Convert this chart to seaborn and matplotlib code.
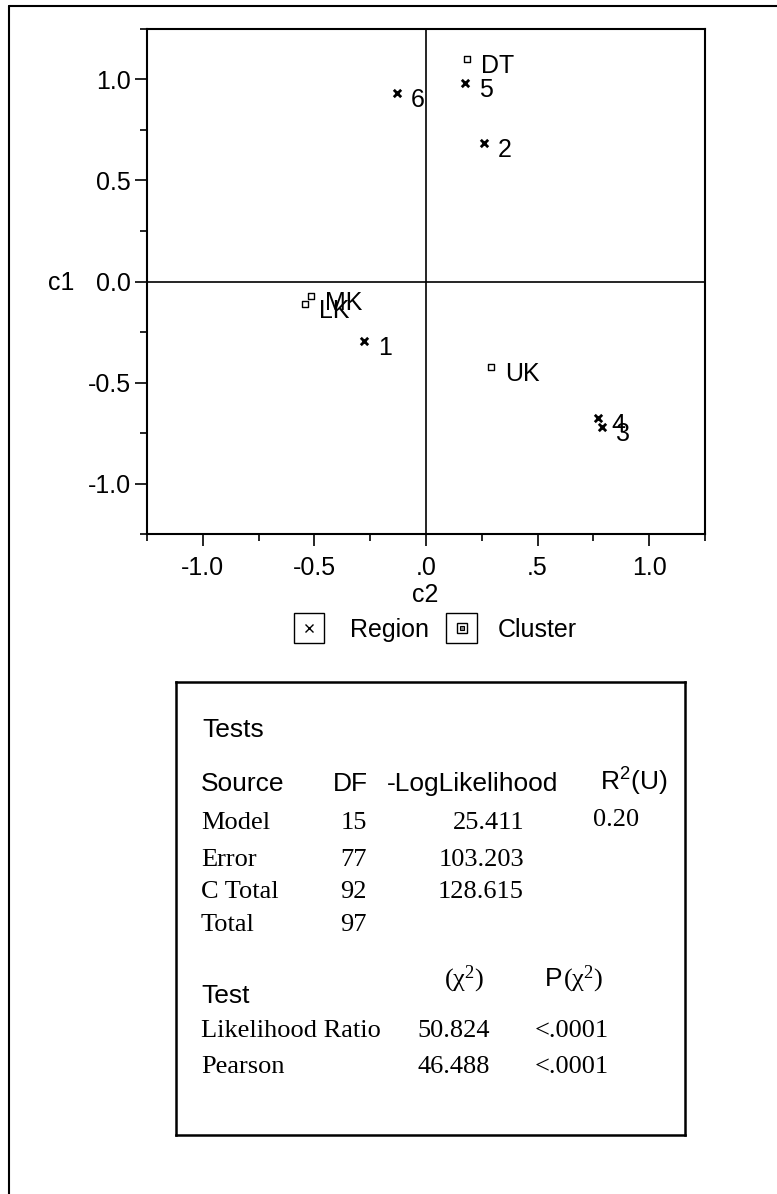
import numpy as np
import pandas as pd
import seaborn as sns
import matplotlib.pyplot as plt
from matplotlib.lines import Line2D
from matplotlib.patches import Rectangle

# points
region_labels = ["1", "2", "3", "4", "5", "6"]
region_c2 = [-0.276, 0.260, 0.788, 0.769, 0.176, -0.131]
region_c1 = [-0.295, 0.684, -0.721, -0.676, 0.981, 0.935]

cluster_labels = ["DT", "LK", "MK", "UK"]
cluster_c2 = [0.182, -0.541, -0.516, 0.293]
cluster_c1 = [1.100, -0.111, -0.072, -0.424]

xtick_vals = [-1.0, -0.5, 0.0, 0.5, 1.0]
xtick_text = ["-1.0", "-0.5", ".0", ".5", "1.0"]
ytick_vals = [-1.0, -0.5, 0.0, 0.5, 1.0]
ytick_text = ["-1.0", "-0.5", "0.0", "0.5", "1.0"]
minor_vals = [-1.25, -0.75, -0.25, 0.25, 0.75, 1.25]

# Tests table
src_rows = ["Model", "Error", "C Total", "Total"]
src_df = ["15", "77", "92", "97"]
src_loglik = ["25.411", "103.203", "128.615", ""]
src_r2 = ["0.20", "", "", ""]
test_rows = ["Likelihood Ratio", "Pearson"]
test_chi = ["50.824", "46.488"]
test_p = ["<.0001", "<.0001"]

region = pd.DataFrame({"c2": region_c2, "c1": region_c1, "label": region_labels})
cluster = pd.DataFrame({"c2": cluster_c2, "c1": cluster_c1, "label": cluster_labels})

sns.set_theme(style="white")
plt.rcParams["font.family"] = ["Liberation Sans", "DejaVu Sans"]
plt.rcParams["mathtext.fontset"] = "custom"
plt.rcParams["mathtext.rm"] = "Liberation Serif"
plt.rcParams["mathtext.sf"] = "Liberation Sans"

W, H = 777, 1194
fig = plt.figure(figsize=(W / 100, H / 100), dpi=100)


def fx(x):
    return x / W


def fy(y):
    return 1 - y / H


SANS = ["Liberation Sans", "DejaVu Sans"]
SERIF = ["Liberation Serif", "DejaVu Serif"]

# main scatter
ax = fig.add_axes([fx(147), fy(534), fx(705) - fx(147), fy(29) - fy(534)])
ax.axhline(0, color="black", lw=1.2, zorder=1)
ax.axvline(0, color="black", lw=1.2, zorder=1)

sns.scatterplot(data=region, x="c2", y="c1", marker="x", color="black",
                s=28, linewidth=2.0, ax=ax, zorder=3, legend=False)
sns.scatterplot(data=cluster, x="c2", y="c1", marker="s", color="white",
                edgecolor="black", s=16, linewidth=1.0, ax=ax, zorder=3, legend=False)

for df in (region, cluster):
    for _, r in df.iterrows():
        ax.annotate(r["label"], (r["c2"], r["c1"]), xytext=(14, -7),
                    textcoords="offset pixels", ha="left", va="center",
                    fontsize=18, color="black")

ax.set_xlim(-1.25, 1.25)
ax.set_ylim(-1.25, 1.25)
ax.set_xticks(xtick_vals)
ax.set_xticklabels(xtick_text)
ax.set_yticks(ytick_vals)
ax.set_yticklabels(ytick_text)
ax.set_xticks(minor_vals, minor=True)
ax.set_yticks(minor_vals, minor=True)
ax.tick_params(which="major", direction="out", length=8.5, width=1.2,
               color="black", labelsize=18, labelcolor="black")
ax.tick_params(which="minor", direction="out", length=5, width=1.2, color="black")
ax.tick_params(axis="x", which="major", pad=7)
ax.tick_params(axis="y", which="major", pad=3)
ax.tick_params(axis="both", which="both", bottom=True, left=True)
for sp in ax.spines.values():
    sp.set_color("black")
    sp.set_linewidth(1.5)

ax.set_xlabel("c2", fontsize=18, color="black")
ax.xaxis.set_label_coords(0.498, -0.121)
ax.xaxis.label.set_va("center")
ax.set_ylabel("c1", fontsize=18, color="black", rotation=0)
ax.yaxis.set_label_coords(-0.154, 0.497)
ax.yaxis.label.set_va("center")
ax.yaxis.label.set_ha("center")

# legend strip under the plot
lg = fig.add_axes([fx(280), fy(650), fx(600) - fx(280), fy(605) - fy(650)])
lg.set_xlim(280, 600)
lg.set_ylim(650, 605)
lg.axis("off")
lg.add_patch(Rectangle((294, 613), 30, 30, fill=False, ec="black", lw=1.0))
lg.plot([309], [628], marker="x", ms=6, mew=1.0, color="black")
lg.text(350, 630, "Region", fontsize=18, va="center", ha="left", color="black")
lg.add_patch(Rectangle((446, 613), 31, 30, fill=False, ec="black", lw=1.0))
lg.plot([461.5], [628], marker="s", ms=7.5, mfc="white", mec="black", mew=1.0)
lg.plot([461.5], [628], marker="s", ms=3.5, mfc="#888888", mec="black", mew=0.8)
lg.text(498, 630, "Cluster", fontsize=18, va="center", ha="left", color="black")

# Tests table box
tb = fig.add_axes([fx(176), fy(1135), fx(685) - fx(176), fy(682) - fy(1135)])
tb.set_xticks([])
tb.set_yticks([])
tb.set_facecolor("none")
for sp in tb.spines.values():
    sp.set_color("black")
    sp.set_linewidth(1.8)


def put(x, y, s, ha="left", fam=SANS, size=19):
    fig.text(fx(x), fy(y), s, ha=ha, va="baseline", fontsize=size,
             family=fam, color="black")


put(202, 737, "Tests")
put(201, 791, "Source")
put(333, 791, "DF")
put(387, 791, "-LogLikelihood")
put(600, 791, r"$\mathsf{R^2(U)}$")

row_y = [829, 865.5, 898.5, 931]
for i, name in enumerate(src_rows):
    put(201, row_y[i], name, fam=SERIF)
    put(367, row_y[i], src_df[i], ha="right", fam=SERIF)
    if src_loglik[i]:
        put(524, row_y[i], src_loglik[i], ha="right", fam=SERIF)
    if src_r2[i]:
        put(593, row_y[i] - 3, src_r2[i], fam=SERIF)

put(201, 1003, "Test")
put(444, 986, r"$\mathrm{(χ^2)}$", fam=SERIF)
put(545, 986, "P")
put(563, 986, r"$\mathrm{(χ^2)}$", fam=SERIF)

test_y = [1037, 1073]
for i, name in enumerate(test_rows):
    put(201, test_y[i], name, fam=SERIF)
    put(490, test_y[i], test_chi[i], ha="right", fam=SERIF)
    put(535, test_y[i], test_p[i], fam=SERIF)

# outer frame (top and left edges)
fig.add_artist(Line2D([fx(9), 1.0], [fy(6), fy(6)], color="black", lw=1.5))
fig.add_artist(Line2D([fx(9), fx(9)], [fy(6), 0.0], color="black", lw=1.5))

fig.savefig("out.png", dpi=100, facecolor="white")
